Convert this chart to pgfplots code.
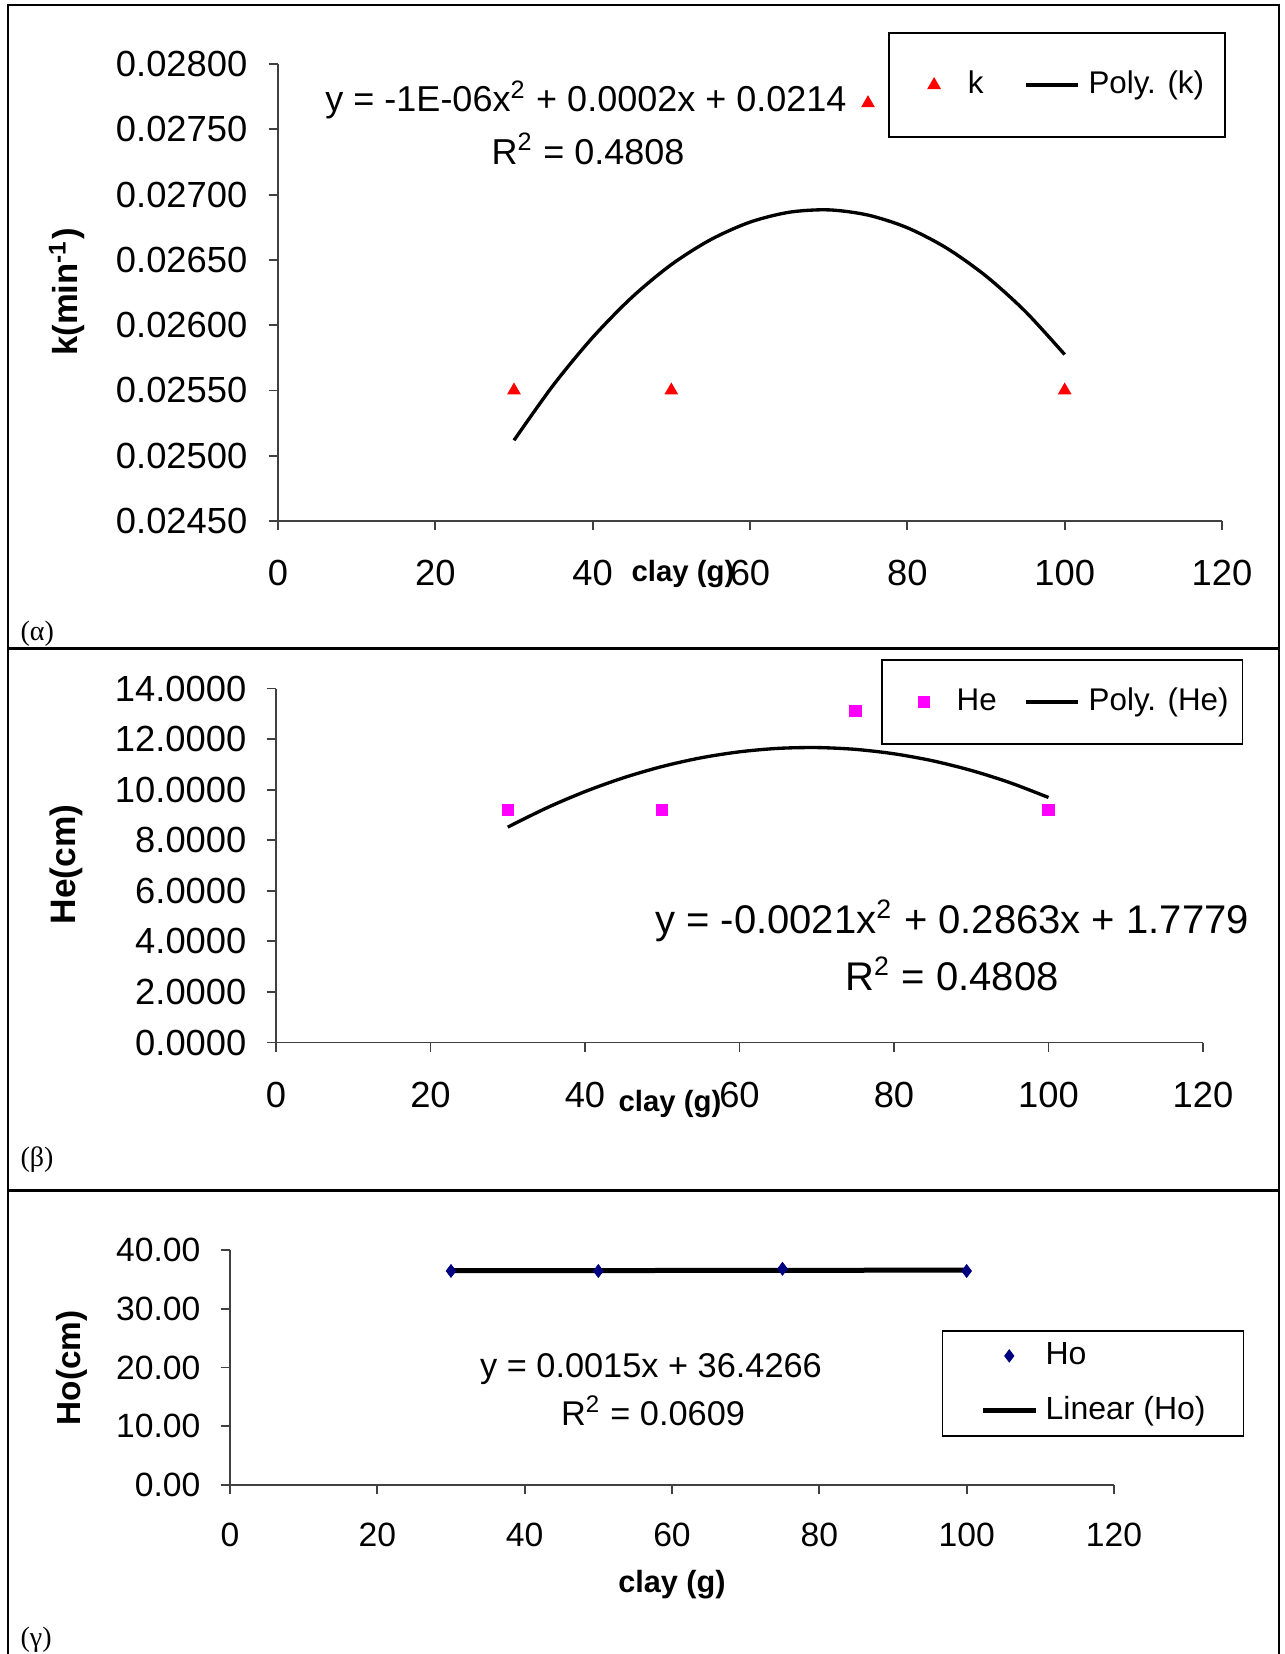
\documentclass[border=0pt]{standalone}
\usepackage{fontspec}
\setmainfont{Liberation Sans}
\newfontfamily\grserif{Liberation Serif}
\usepackage{pgfplots}
\pgfplotsset{compat=1.18}
\definecolor{navyho}{RGB}{0,0,128}
\definecolor{pinkhe}{RGB}{255,0,255}
\pgfplotsset{excel/.style={
  scale only axis, axis lines=left, axis line style={-, black!75, line width=0.55pt},
  tick align=outside, major tick length=2.8pt, tick style={black!75, line width=0.55pt},
  xmin=0, xmax=120, xtick={0,20,40,60,80,100,120}, xticklabels={0,20,40,60,80,100,120},
  scaled ticks=false,
  yticklabel style={anchor=east, inner sep=0pt},
  xticklabel style={anchor=center, inner sep=0pt},
  legend cell align=left,
}}
\pgfplotsset{
  imgmarkA/.style={legend image code/.code={\path[draw=none,fill=none] (-7.17pt,0pt) -- (1.65pt,0pt); \draw[##1,only marks] plot coordinates {(0pt,0pt)};}},
  imgmarkB/.style={legend image code/.code={\path[draw=none,fill=none] (-8.4pt,0pt) -- (1.65pt,0pt); \draw[##1,only marks] plot coordinates {(0pt,0pt)};}},
  imgmarkC/.style={legend image code/.code={\path[draw=none,fill=none] (0pt,0pt) -- (15.9pt,0pt); \draw[##1,only marks] plot coordinates {(7.95pt,0pt)};}},
  imglineA/.style={legend image code/.code={\draw[##1] (0pt,0pt) -- (15.6pt,0pt);}},
  imglineC/.style={legend image code/.code={\draw[##1] (0pt,0pt) -- (15.9pt,0pt);}},
}
\begin{document}
\begin{tikzpicture}
\path[use as bounding box] (0,0) rectangle (385.5pt,-496.2pt);
\draw[line width=0.6pt] (2.4pt,-496.2pt) -- (2.4pt,-1.5pt) -- (383.7pt,-1.5pt) -- (383.7pt,-496.2pt);
\draw[line width=0.9pt] (2.4pt,-194.55pt) -- (383.7pt,-194.55pt);
\draw[line width=0.9pt] (2.4pt,-357.15pt) -- (383.7pt,-357.15pt);

% ---------- panel (alpha) ----------
\begin{axis}[excel,
  at={(83.4pt,-156.3pt)}, anchor=south west, width=283.2pt, height=137.1pt,
  ymin=0.0245, ymax=0.028,
  ytick={0.0245,0.025,0.0255,0.026,0.0265,0.027,0.0275,0.028},
  yticklabels={0.02450,0.02500,0.02550,0.02600,0.02650,0.02700,0.02750,0.02800},
  ticklabel style={font=\fontsize{10.9}{12}\selectfont},
  yticklabel style={xshift=-6.2pt},
  xticklabel style={yshift=-12.8pt},
  xlabel={clay (g)}, xlabel style={font=\bfseries\fontsize{8.8}{10}\selectfont, at={(axis description cs:0.429,-0.116)}, anchor=center},
  ylabel={k(min\textsuperscript{-1})}, ylabel style={font=\bfseries\fontsize{10.4}{12}\selectfont, at={(axis description cs:-0.2235,0.501)}, anchor=center},
  legend columns=2,
  legend style={at={(axis description cs:0.6466,1.070)}, anchor=north west, draw=black, line width=0.5pt,
    font=\fontsize{9.4}{11}\selectfont, inner xsep=6.3pt, inner ysep=11.5pt, nodes={inner sep=0pt},
    /tikz/column 1/.style={column sep=8.4pt}, /tikz/column 2/.style={column sep=12.2pt}, /tikz/column 3/.style={column sep=2.7pt}},
]
\addplot[only marks, mark=triangle*, mark size=2pt, color=red, line width=0.4pt, imgmarkA]
  table {
x y
30 0.02550
50 0.02550
75 0.02770
100 0.02550
};
\addlegendentry{k}
\addplot[black, line width=1pt, smooth, mark=none, imglineA]
  table {
x y
30 0.025118
35 0.025541
40 0.025906
45 0.026214
50 0.026464
55 0.026655
60 0.026789
65 0.026865
70 0.026883
75 0.026843
80 0.026746
85 0.026590
90 0.026376
95 0.026105
100 0.025775
};
\addlegendentry{Poly. (k)}
\end{axis}

% ---------- panel (beta) ----------
\begin{axis}[excel,
  at={(82.8pt,-312.75pt)}, anchor=south west, width=278.1pt, height=106.2pt,
  ymin=0, ymax=14,
  ytick={0,2,4,6,8,10,12,14},
  yticklabels={0.0000,2.0000,4.0000,6.0000,8.0000,10.0000,12.0000,14.0000},
  ticklabel style={font=\fontsize{10.9}{12}\selectfont},
  yticklabel style={xshift=-5.9pt},
  xticklabel style={yshift=-12.8pt},
  xlabel={clay (g)}, xlabel style={font=\bfseries\fontsize{8.8}{10}\selectfont, at={(axis description cs:0.425,-0.175)}, anchor=center},
  ylabel={He(cm)}, ylabel style={font=\bfseries\fontsize{10.6}{12}\selectfont, at={(axis description cs:-0.2265,0.503)}, anchor=center},
  legend columns=2,
  legend style={at={(axis description cs:0.6525,1.082)}, anchor=north west, draw=black, line width=0.5pt,
    font=\fontsize{9.4}{11}\selectfont, inner xsep=4.2pt, inner ysep=8.35pt, nodes={inner sep=0pt},
    /tikz/column 1/.style={column sep=8.2pt}, /tikz/column 2/.style={column sep=8.3pt}, /tikz/column 3/.style={column sep=2.7pt}},
]
\addplot[only marks, mark=square*, mark size=1.7pt, color=pinkhe, line width=0.3pt, imgmarkB]
  table {
x y
30 9.20
50 9.20
75 13.12
100 9.20
};
\addlegendentry{He}
\addplot[black, line width=1pt, smooth, mark=none, imglineA]
  table {
x y
30 8.518
35 9.273
40 9.924
45 10.472
50 10.917
55 11.259
60 11.497
65 11.633
70 11.665
75 11.594
80 11.419
85 11.142
90 10.761
95 10.278
100 9.691
};
\addlegendentry{Poly. (He)}
\end{axis}

% ---------- panel (gamma) ----------
\begin{axis}[excel,
  at={(69pt,-445.5pt)}, anchor=south west, width=265.2pt, height=70.5pt,
  ymin=0, ymax=40,
  ytick={0,10,20,30,40},
  yticklabels={0.00,10.00,20.00,30.00,40.00},
  ticklabel style={font=\fontsize{10.1}{12}\selectfont},
  yticklabel style={xshift=-5.9pt},
  xticklabel style={yshift=-12.2pt},
  xlabel={clay (g)}, xlabel style={font=\bfseries\fontsize{9.2}{10}\selectfont, at={(axis description cs:0.500,-0.4255)}, anchor=center},
  ylabel={Ho(cm)}, ylabel style={font=\bfseries\fontsize{10}{12}\selectfont, at={(axis description cs:-0.179,0.498)}, anchor=center},
  legend style={at={(axis description cs:0.805,0.660)}, anchor=north west, draw=black, line width=0.5pt,
    font=\fontsize{9.6}{11}\selectfont, inner xsep=11.35pt, inner ysep=3.5pt, nodes={inner sep=0pt},
    row sep=8pt, /tikz/column 1/.style={column sep=2.2pt}},
]
\addplot[only marks, mark=diamond*, mark size=1.8pt, color=navyho, line width=0.3pt, imgmarkC]
  table {
x y
30 36.43
50 36.43
75 36.80
100 36.43
};
\addlegendentry{Ho}
\addplot[black, line width=1.5pt, mark=none, imglineC]
  table {
x y
30 36.472
100 36.577
};
\addlegendentry{Linear (Ho)}
\addplot[only marks, mark=diamond*, mark size=1.8pt, color=navyho, line width=0.3pt, forget plot]
  table {
x y
30 36.43
50 36.43
75 36.80
100 36.43
};
\end{axis}

% equations and panel labels
\node[anchor=base, inner sep=0pt, font=\fontsize{10.8}{12}\selectfont] at (175.8pt,-33.45pt) {y = -1E-06x\textsuperscript{2} + 0.0002x + 0.0214};
\node[anchor=base, inner sep=0pt, font=\fontsize{10.8}{12}\selectfont] at (176.4pt,-49.2pt) {R\textsuperscript{2} = 0.4808};
\node[anchor=base, inner sep=0pt, font=\fontsize{12}{14}\selectfont] at (285.6pt,-279.9pt) {y = -0.0021x\textsuperscript{2} + 0.2863x + 1.7779};
\node[anchor=base, inner sep=0pt, font=\fontsize{12}{14}\selectfont] at (285.6pt,-297pt) {R\textsuperscript{2} = 0.4808};
\node[anchor=base, inner sep=0pt, font=\fontsize{10.3}{12}\selectfont] at (195.3pt,-413.1pt) {y = 0.0015x + 36.4266};
\node[anchor=base, inner sep=0pt, font=\fontsize{10.3}{12}\selectfont] at (195.9pt,-427.5pt) {R\textsuperscript{2} = 0.0609};
\node[anchor=west, inner sep=0pt, font=\grserif\fontsize{8.4}{10}\selectfont] at (6pt,-190pt) {(α)};
\node[anchor=west, inner sep=0pt, font=\grserif\fontsize{8.4}{10}\selectfont] at (6pt,-347.9pt) {(β)};
\node[anchor=west, inner sep=0pt, font=\grserif\fontsize{8.4}{10}\selectfont] at (6pt,-492pt) {(γ)};
\end{tikzpicture}
\end{document}
